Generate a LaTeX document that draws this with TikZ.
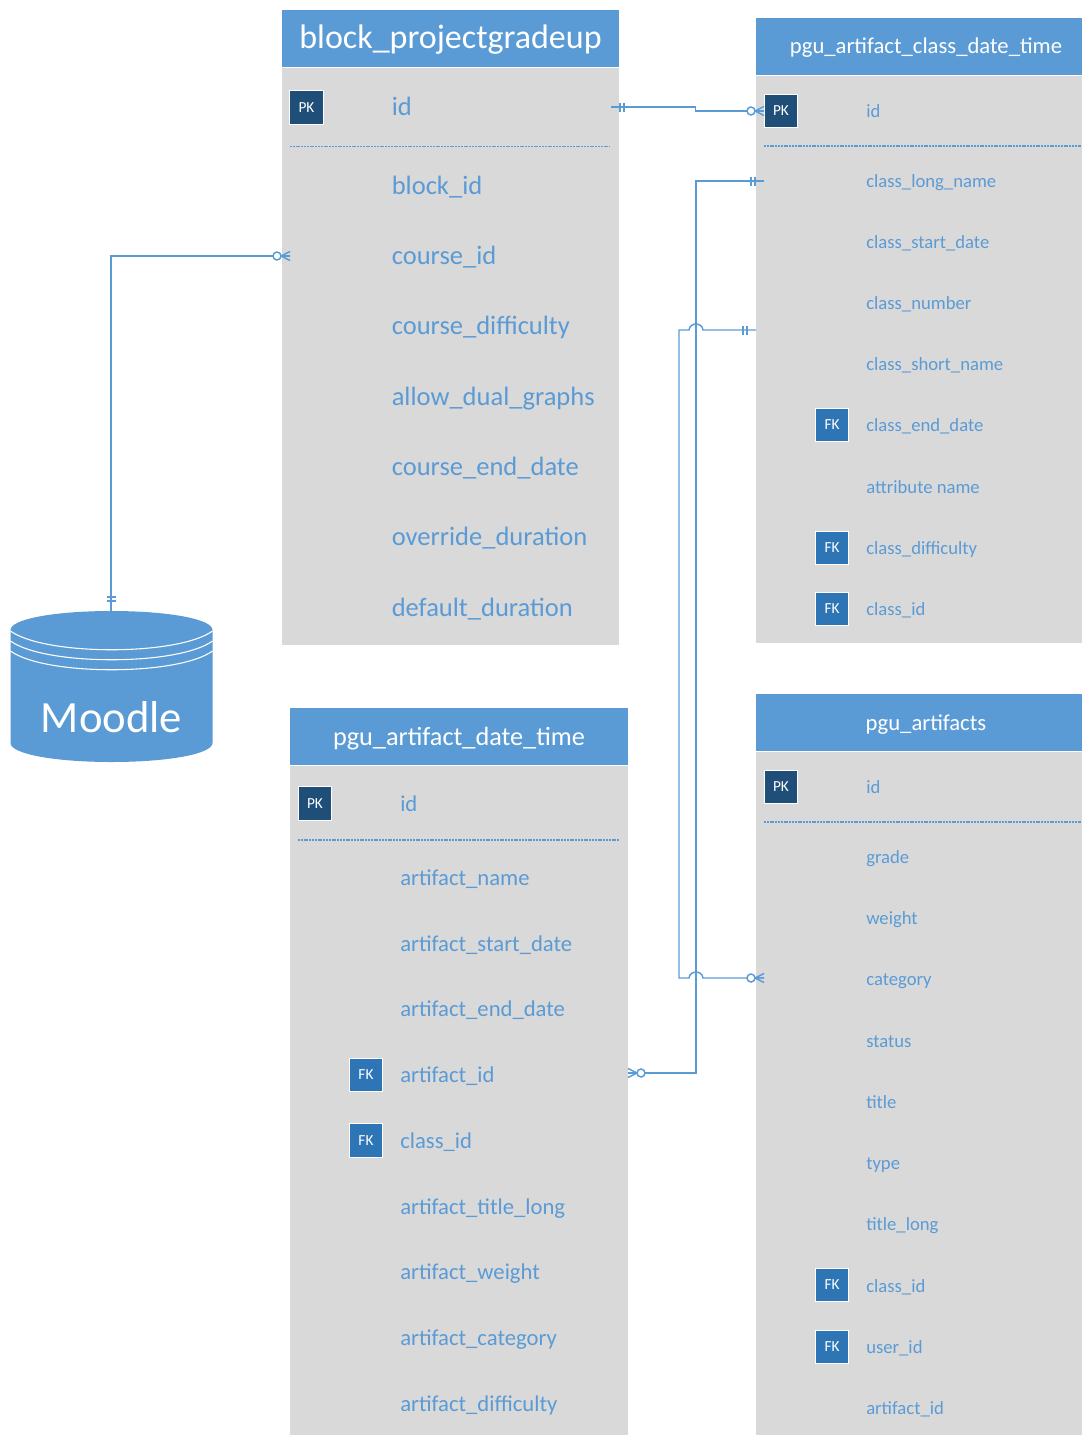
\documentclass[tikz,border=0pt]{standalone}
\usepackage{fontspec}
\setmainfont{Carlito}
\definecolor{hdr}{HTML}{5B9BD5}
\definecolor{bodyc}{HTML}{D9D9D9}
\definecolor{pkc}{HTML}{1F4E79}
\definecolor{fkc}{HTML}{2E75B6}
\definecolor{linec}{HTML}{5B9BD5}
\tikzset{
  hdrbox/.style={fill=hdr,draw=none},
  bodybox/.style={fill=bodyc,draw=none},
  keybox/.style={draw=white,line width=0.8pt,minimum width=25pt,minimum height=25pt,inner sep=0pt,text=white,font=\fontsize{11.5}{13}\selectfont},
  pkbox/.style={keybox,fill=pkc},
  fkbox/.style={keybox,fill=fkc},
  attrA/.style={anchor=mid west,inner sep=0pt,text=hdr,font=\fontsize{19.9}{24}\selectfont},
  attrB/.style={anchor=mid west,inner sep=0pt,text=hdr,font=\fontsize{17}{20}\selectfont},
  attrC/.style={anchor=mid west,inner sep=0pt,text=hdr,font=\fontsize{14}{16}\selectfont},
  titleA/.style={inner sep=0pt,text=white,font=\fontsize{25.5}{30}\selectfont},
  titleB/.style={inner sep=0pt,text=white,font=\fontsize{17}{22}\selectfont},
  sep/.style={draw=hdr,line width=0.8pt,dash pattern=on 1.5pt off 0.6pt},
  link/.style={draw=linec,line width=1.1pt},
  pics/crowfoot/.style={code={
    \draw[link] (0,-4.5) -- (9,0) -- (0,4.5) (0,0) -- (9,0);
    \draw[link,fill=white] (13,0) circle[radius=4];
  }},
  pics/barpair/.style={code={
    \draw[link] (-2,-4.5) -- (-2,4.5) (2,-4.5) -- (2,4.5);
  }}
}
\begin{document}
\begin{tikzpicture}[x=0.75pt,y=-0.75pt]
\useasboundingbox (0,0) rectangle (1082,1435);

% block_projectgradeup
\fill[bodybox] (282,68) rectangle (619,645);
\fill[hdrbox] (282,10) rectangle (619,67);
\node[titleA] (t1title) at (450.5,40) {block\_projectgradeup};
\node[pkbox] (t1pk) at (306.5,107.5) {PK};
\draw[sep] (290,146.5) -- (610,146.5);
\foreach \n/\y/\t in {a/112/id,b/191/block\_id,c/261/course\_id,d/331/course\_difficulty,e/402/allow\_dual\_graphs,f/472/course\_end\_date,g/542/override\_duration,h/613/default\_duration}
  \node[attrA] (t1\n) at (391.5,\y) {\t};

% pgu_artifact_class_date_time
\fill[bodybox] (756,76) rectangle (1082,643);
\fill[hdrbox] (756,18) rectangle (1082,75);
\node[titleB] (t2title) at (926,48) {pgu\_artifact\_class\_date\_time};
\node[pkbox] (t2pk) at (781,111) {PK};
\draw[sep] (764,146) -- (1081,146);
\foreach \n/\y/\t in {a/114/id,b/184/class\_long\_name,c/245/class\_start\_date,d/306/class\_number,e/367/class\_short\_name,f/428/class\_end\_date,g/490/attribute name,h/551/class\_difficulty,i/612/class\_id}
  \node[attrC] (t2\n) at (866,\y) {\t};
\node[fkbox] (t2fkf) at (832,425) {FK};
\node[fkbox] (t2fkh) at (832,548) {FK};
\node[fkbox] (t2fki) at (832,609) {FK};

% pgu_artifact_date_time
\fill[bodybox] (290,766) rectangle (627.5,1435);
\fill[hdrbox] (290,708) rectangle (627.5,765);
\node[titleB,font=\fontsize{19.7}{24}\selectfont] (t3title) at (459,739) {pgu\_artifact\_date\_time};
\node[pkbox] (t3pk) at (315,803.5) {PK};
\draw[sep] (298,840) -- (619,840);
\foreach \n/\y/\t in {a/808/id,b/882/artifact\_name,c/948/artifact\_start\_date,d/1013/artifact\_end\_date,e/1079/artifact\_id,f/1145/class\_id,g/1211/artifact\_title\_long,h/1276/artifact\_weight,i/1342/artifact\_category,j/1408/artifact\_difficulty}
  \node[attrB] (t3\n) at (400,\y) {\t};
\node[fkbox] (t3fke) at (366,1075) {FK};
\node[fkbox] (t3fkf) at (366,1140.5) {FK};

% pgu_artifacts
\fill[bodybox] (756,752) rectangle (1082,1435);
\fill[hdrbox] (756,694) rectangle (1082,751);
\node[titleB] (t4title) at (926,725) {pgu\_artifacts};
\node[pkbox] (t4pk) at (781,787) {PK};
\draw[sep] (764,822) -- (1081,822);
\foreach \n/\y/\t in {a/790/id,b/860/grade,c/921/weight,d/982/category,e/1044/status,f/1105/title,g/1166/type,h/1227/title\_long,i/1289/class\_id,j/1350/user\_id,k/1411/artifact\_id}
  \node[attrC] (t4\n) at (866,\y) {\t};
\node[fkbox] (t4fki) at (832,1285) {FK};
\node[fkbox] (t4fkj) at (832,1347) {FK};

% Moodle cylinder
\fill[hdr] (10.5,630) .. controls (10.5,619) and (55,611) .. (111.5,611)
  .. controls (168,611) and (212.5,619) .. (212.5,630)
  -- (212.5,743) .. controls (212.5,754) and (168,762) .. (111.5,762)
  .. controls (55,762) and (10.5,754) .. (10.5,743) -- cycle;
\foreach \y in {631,641,651}
  \draw[white,line width=0.8pt] (10.5,\y) .. controls (45,{\y+25}) and (178,{\y+25}) .. (212.5,\y);
\node[inner sep=0pt,text=white,font=\fontsize{33.5}{40}\selectfont] (moodle) at (111.5,717) {Moodle};
\coordinate (moodleTop) at (111,611);

% connector end points
\coordinate (t1idE) at (611,107);
\coordinate (t2idW) at (764,111);
\coordinate (t1cW) at (290,256);
\coordinate (t2bW) at (764,181);
\coordinate (t3eE) at (628,1073);
\coordinate (t2sideW) at (756,330);
\coordinate (t4dW) at (764,978);

\draw[link] (t1idE) -- (695.5,107) -- (695.5,111) -- (t2idW);
\path (622,107) pic {barpair};
\path (t2idW) pic[rotate=180] {crowfoot};

\draw[link] (moodleTop) -- (111,256) -- (t1cW);
\path (t1cW) pic[rotate=180] {crowfoot};
\path (111,599) pic[rotate=90] {barpair};

\draw[link] (t2bW) -- (696,181) -- (696,1073) -- (t3eE);
\path (753,181) pic {barpair};
\path (t3eE) pic {crowfoot};

\draw[link] (t2sideW) -- (703,330) .. controls (702,322) and (690,322) .. (689,330) -- (679,330) -- (679,978) -- (689,978)
  .. controls (690,970) and (702,970) .. (703,978) -- (t4dW);
\path (745,330) pic {barpair};
\path (t4dW) pic[rotate=180] {crowfoot};
\end{tikzpicture}
\end{document}
